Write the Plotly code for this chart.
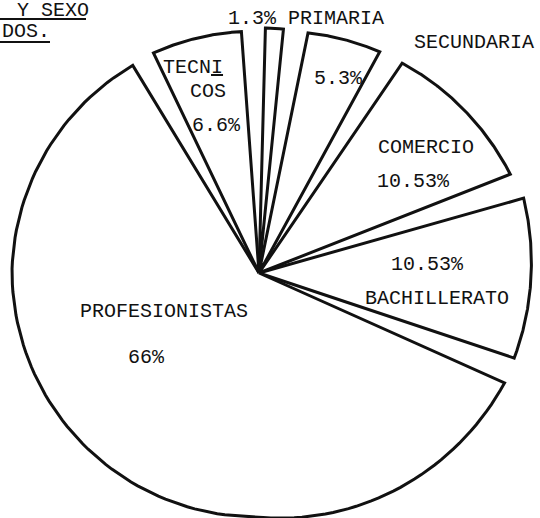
import numpy as np
import plotly.graph_objects as go

# Slice data, clockwise from the top
labels = ["PRIMARIA", "SECUNDARIA", "COMERCIO", "BACHILLERATO", "PROFESIONISTAS", "TECNICOS"]
percent = [1.3, 5.3, 10.53, 10.53, 66, 6.6]

# Drawing style: wedge geometry (pixel units, angles in degrees clockwise from 12 o'clock)
W, H = 540, 518
CX, CY = 259, 273
START_ANGLE = 1.5
GAP = 5.67
# outer radius profile of each wedge: (fraction along the arc, radius)
outer_radius = [
    [(0, 245), (1, 245)],
    [(0, 245), (1, 252)],
    [(0, 254), (1, 270)],
    [(0, 275), (1, 269)],
    [(0, 269), (0.31, 244), (0.73, 247), (1, 243)],
    [(0, 244), (1, 242)],
]
INK = "#111111"
FONT = dict(family="Liberation Mono, DejaVu Sans Mono, monospace", size=20, color=INK)


def pct(v):
    return f"{v:g}%"


fig = go.Figure()

deg_per_pct = (360 - GAP * len(percent)) / sum(percent)
theta = START_ANGLE
for name, v, prof in zip(labels, percent, outer_radius):
    span = v * deg_per_pct
    t = np.linspace(0, 1, 120)
    fr, rr = zip(*prof)
    r = np.interp(t, fr, rr)
    ang = np.radians(theta + t * span)
    xs = np.concatenate([[CX], CX + r * np.sin(ang), [CX]])
    ys = np.concatenate([[CY], CY - r * np.cos(ang), [CY]])
    fig.add_trace(go.Scatter(
        x=xs, y=ys, mode="lines", fill="toself", fillcolor="white",
        line=dict(color=INK, width=3), name=name,
        hoverinfo="text", text=f"{name}: {pct(v)}", showlegend=False,
    ))
    theta += span + GAP

# Slice labels
texts = [
    (f"{pct(percent[0])} {labels[0]}", 306, 18),
    (labels[1], 474, 42),
    (pct(percent[1]), 338, 78),
    (labels[2], 426, 147),
    (pct(percent[2]), 413, 181),
    (pct(percent[3]), 427, 264),
    (labels[3], 437, 298),
    (labels[4], 164, 311),
    (pct(percent[4]), 146, 357),
    ("TECN<u>I</u>", 193, 67),
    ("COS", 208, 91),
    (pct(percent[5]), 216, 125),
]
for txt, x, y in texts:
    fig.add_annotation(x=x, y=y, text=txt, showarrow=False, font=FONT,
                       xanchor="center", yanchor="middle")

# Heading fragment at the top-left corner
fig.add_annotation(x=15, y=10, text="Y SEXO", showarrow=False, font=FONT,
                   xanchor="left", yanchor="middle")
fig.add_annotation(x=0, y=31, text="DOS.", showarrow=False, font=FONT,
                   xanchor="left", yanchor="middle")
fig.add_shape(type="line", x0=0, x1=86, y0=19, y1=19, line=dict(color=INK, width=2))
fig.add_shape(type="line", x0=0, x1=50, y0=42, y1=42, line=dict(color=INK, width=2))

fig.update_xaxes(range=[0, W], visible=False, fixedrange=True)
fig.update_yaxes(range=[H, 0], visible=False, fixedrange=True)
fig.update_layout(
    width=W, height=H, margin=dict(l=0, r=0, t=0, b=0),
    paper_bgcolor="white", plot_bgcolor="white", showlegend=False,
)
fig.write_html("out.html")
